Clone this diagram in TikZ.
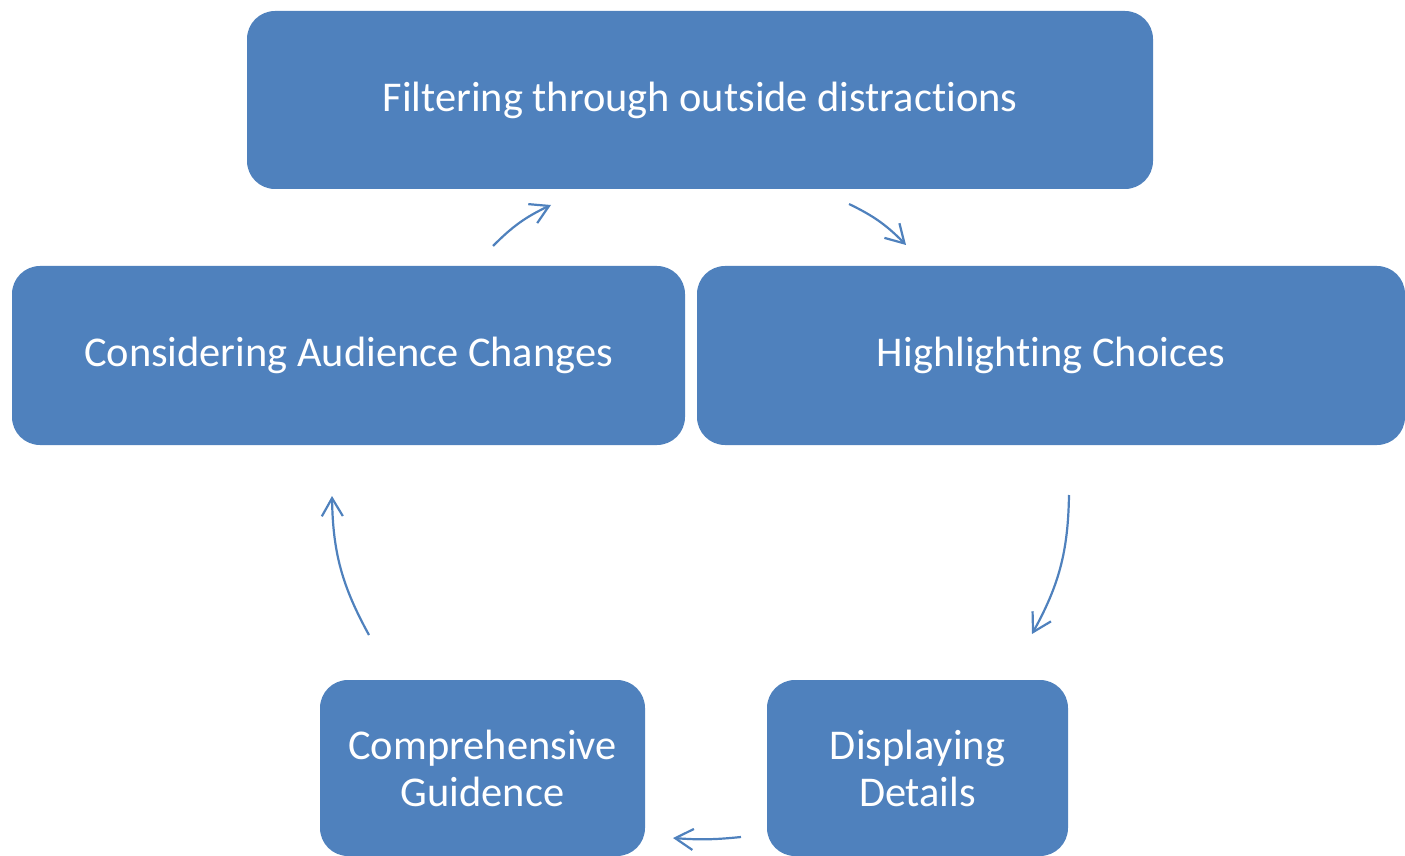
\documentclass[tikz,border=0pt]{standalone}
\usepackage{fontspec}
\setmainfont{Carlito}[Ligatures={NoCommon}]
\usetikzlibrary{arrows.meta}
\definecolor{boxblue}{HTML}{4F81BD}
\begin{document}
\begin{tikzpicture}[x=0.5pt,y=-0.5pt,
  box/.style={draw=none,fill=boxblue,rounded corners=14pt,text=white,
    font=\fontsize{21.2pt}{23.5pt}\selectfont,align=center,inner sep=0pt},
  cyc/.style={draw=boxblue,line width=1.1pt,-{Straight Barb[length=9pt,width=10.5pt,line width=1.1pt]}}]
\useasboundingbox (0,0) rectangle (1405,856);
\node[box,minimum width=453pt,minimum height=89pt] (top) at (700,100) {\raisebox{-1pt}{Filtering through outside distractions}};
\node[box,minimum width=336.5pt,minimum height=89.5pt] (lft) at (348.5,355.5) {\raisebox{-1.5pt}{Considering Audience Changes}};
\node[box,minimum width=354pt,minimum height=89.5pt] (rgt) at (1051,355.5) {\raisebox{-1.5pt}{Highlighting Choices}};
\node[box,minimum width=162.5pt,minimum height=88pt] (bl) at (482.5,768) {Comprehensive\\Guidence};
\node[box,minimum width=150.5pt,minimum height=88pt] (br) at (917.5,768) {Displaying\\Details};
\coordinate (a1s) at (493,246); \coordinate (a1e) at (551,205);
\coordinate (a2s) at (849,204); \coordinate (a2e) at (906,245);
\coordinate (a3s) at (1069,495); \coordinate (a3e) at (1032,634);
\coordinate (a4s) at (741,837); \coordinate (a4e) at (673,838);
\coordinate (a5s) at (369,635); \coordinate (a5e) at (332,496);
\draw[cyc] (a1s) to[bend left=10] (a1e);
\draw[cyc] (a2s) to[bend left=10] (a2e);
\draw[cyc] (a3s) to[bend left=14] (a3e);
\draw[cyc] (a4s) to[bend left=5] (a4e);
\draw[cyc] (a5s) to[bend left=14] (a5e);
\end{tikzpicture}
\end{document}
